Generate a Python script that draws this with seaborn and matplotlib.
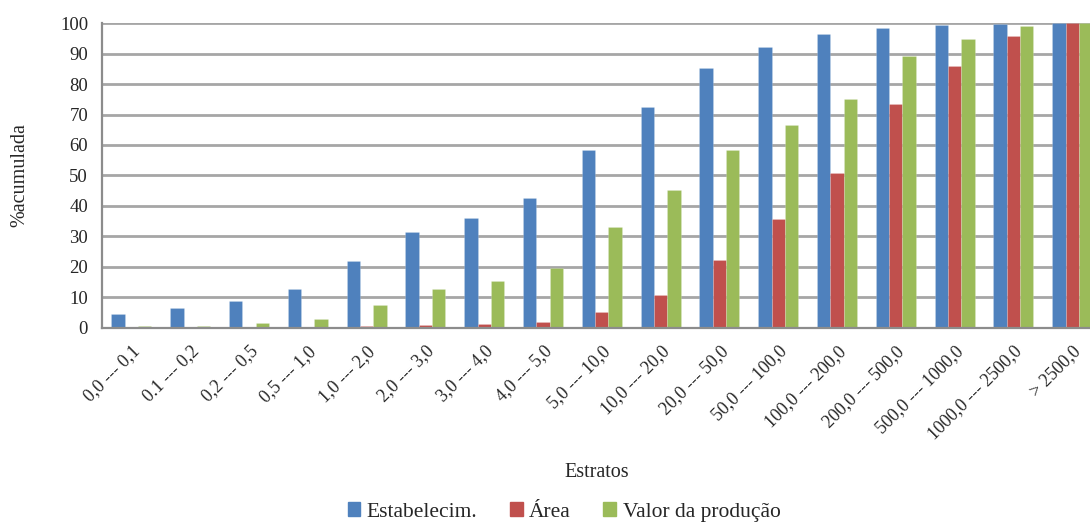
import numpy as np
import pandas as pd
import matplotlib
matplotlib.use("Agg")
import matplotlib.pyplot as plt
from matplotlib.ticker import FixedLocator
import seaborn as sns

# Strata of farm area (ha)
estratos = [
    "0,0 --- 0,1", "0.1 --- 0,2", "0,2 --- 0,5", "0,5 --- 1,0", "1,0 --- 2,0",
    "2,0 --- 3,0", "3,0 --- 4,0", "4,0 --- 5,0", "5,0 --- 10,0", "10,0 --- 20,0",
    "20,0 --- 50,0", "50,0 --- 100,0", "100,0 --- 200,0", "200,0 --- 500,0",
    "500,0 --- 1000,0", "1000,0 --- 2500,0", "> 2500,0",
]

# Cumulative percentages per stratum
estabelecim = [4.4, 6.4, 8.7, 12.8, 21.9, 31.3, 36.0, 42.6, 58.2, 72.4,
               85.4, 92.2, 96.4, 98.6, 99.6, 99.7, 100.0]
area = [0.1, 0.1, 0.2, 0.3, 0.4, 0.7, 1.3, 1.7, 5.2, 10.7,
        22.3, 35.8, 50.8, 73.5, 86.0, 95.8, 100.0]
valor_producao = [0.6, 0.5, 1.4, 2.9, 7.4, 12.5, 15.4, 19.5, 33.0, 45.1,
                  58.2, 66.6, 75.2, 89.4, 94.7, 99.1, 100.0]

series_names = ["Estabelecim.", "Área", "Valor da produção"]
colors = ["#4F81BD", "#C0504D", "#9BBB59"]

df = pd.DataFrame({
    "Estratos": estratos * 3,
    "serie": [series_names[0]] * len(estratos)
             + [series_names[1]] * len(estratos)
             + [series_names[2]] * len(estratos),
    "valor": estabelecim + area + valor_producao,
})

sns.set_style("white")
plt.rcParams["font.family"] = ["Liberation Serif", "DejaVu Serif"]

fig = plt.figure(figsize=(10.90, 5.23), dpi=100)
ax_w = 17 * 58.8 / 1090
ax = fig.add_axes([102 / 1090, 195.5 / 523, ax_w, 304.2 / 523])

sns.barplot(data=df, x="Estratos", y="valor", hue="serie",
            palette=colors, width=0.68, gap=0, saturation=1,
            order=estratos, hue_order=series_names, ax=ax,
            linewidth=0.6, edgecolor="#ffffff30")

ax.set_xlim(-0.5, len(estratos) - 0.5)
ax.set_ylim(0, 100)
ax.set_yticks(np.arange(0, 101, 10))
ax.yaxis.grid(True, color="#a6a6a6", linewidth=2.0)
ax.set_axisbelow(True)

grey = "#8c8c8c"
for side in ["top", "right"]:
    ax.spines[side].set_visible(False)
for side in ["left", "bottom"]:
    ax.spines[side].set_color(grey)
    ax.spines[side].set_linewidth(1.6)

# Category separators as minor ticks on x
ax.xaxis.set_minor_locator(FixedLocator(np.arange(-0.5, len(estratos), 1.0)))
ax.tick_params(axis="x", which="major", length=0, pad=11)
ax.tick_params(axis="x", which="minor", length=5, width=1.6, color=grey)
ax.tick_params(axis="y", which="major", length=5, width=1.6, color=grey,
               labelsize=13.5, pad=5)

ax.set_xticks(range(len(estratos)))
ax.set_xticklabels(estratos, rotation=45, ha="right", rotation_mode="anchor",
                   fontsize=13)

ax.set_ylabel("%acumulada", fontsize=14.5)
ax.yaxis.set_label_coords(-(102 - 29) / 1090 / ax_w, 0.5)
ax.set_xlabel("Estratos", fontsize=14.5)
ax.xaxis.set_label_coords(495 / (17 * 58.8), -(463 - 327.5) / 304.2)

ax.legend_.remove()
handles = [plt.Rectangle((0, 0), 1, 1, color=c) for c in colors]
fig.legend(handles, series_names, loc="center", ncol=3,
           bbox_to_anchor=(564 / 1090, 11 / 523), frameon=False,
           fontsize=15.5, handlelength=0.6, handleheight=0.6,
           handletextpad=0.3, columnspacing=1.5)

fig.savefig("out.png", dpi=100)
